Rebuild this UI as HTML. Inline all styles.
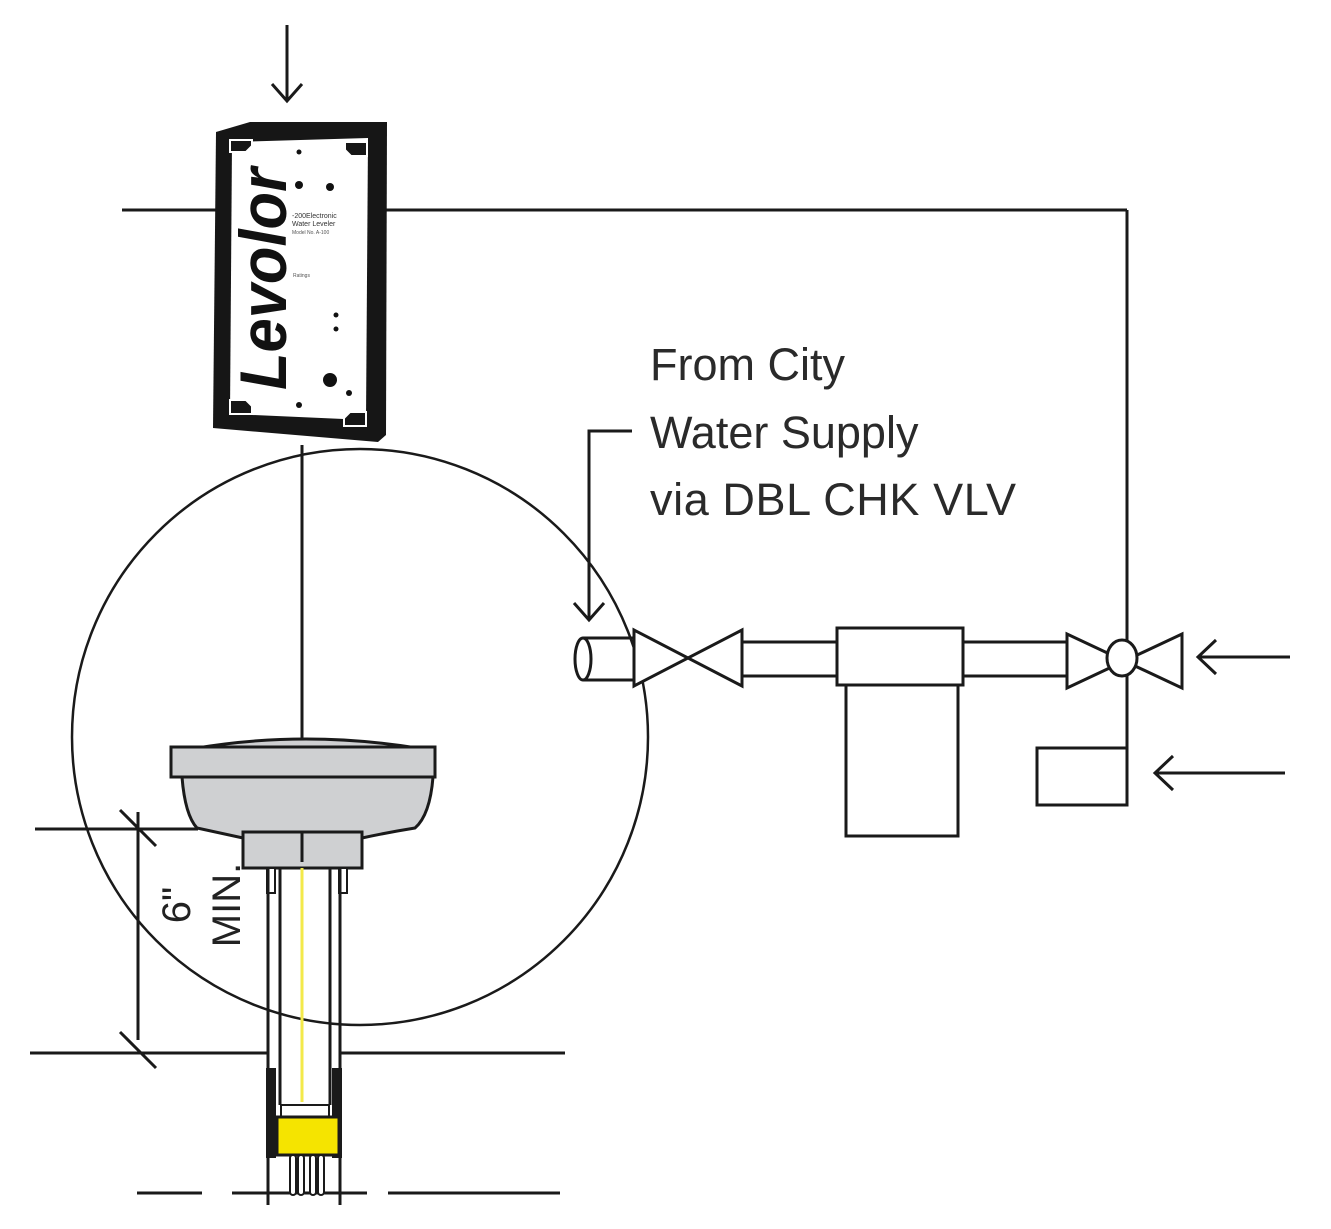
<!DOCTYPE html>
<html><head><meta charset="utf-8"><style>
html,body{margin:0;padding:0;background:#fff;width:1331px;height:1229px;overflow:hidden}
svg{display:block}
text{font-family:"Liberation Sans",sans-serif}
</style></head><body>
<svg width="1331" height="1229" viewBox="0 0 1331 1229" xmlns="http://www.w3.org/2000/svg">
<g fill="none" stroke="#1a1a1a" stroke-width="3">
<line x1="287" y1="25" x2="287" y2="101"/>
<polyline points="272,84 287,101 302,84"/>
<line x1="122" y1="210" x2="218" y2="210"/>
<line x1="385" y1="210" x2="1127" y2="210"/>
<line x1="1127" y1="210" x2="1127" y2="643"/>
<line x1="1127" y1="673" x2="1127" y2="805"/>
<circle cx="360" cy="737" r="288" stroke-width="2.5"/>
<line x1="302" y1="445" x2="302" y2="745"/>
<polyline points="632,431 589,431 589,620"/>
<polyline points="574,603 589,620 604,603"/>
<ellipse cx="583" cy="659" rx="8" ry="21" fill="#fff"/>
<line x1="583" y1="638" x2="636" y2="638"/>
<line x1="583" y1="680" x2="636" y2="680"/>
<polygon points="634,630 634,686 742,630 742,686" fill="#fff"/>
<line x1="742" y1="642" x2="837" y2="642"/>
<line x1="742" y1="676" x2="837" y2="676"/>
<rect x="837" y="628" width="126" height="57" fill="#fff"/>
<rect x="846" y="685" width="112" height="151" fill="#fff"/>
<line x1="963" y1="642" x2="1067" y2="642"/>
<line x1="963" y1="676" x2="1067" y2="676"/>
<polygon points="1067,634 1067,688 1182,634 1182,688" fill="#fff"/>
<ellipse cx="1122" cy="658" rx="15" ry="18" fill="#fff"/>
<rect x="1037" y="748" width="90" height="57" fill="#fff"/>
<line x1="1198" y1="657" x2="1290" y2="657"/>
<polyline points="1216,640 1198,657 1216,674"/>
<line x1="1155" y1="773" x2="1285" y2="773"/>
<polyline points="1173,756 1155,773 1173,790"/>
<line x1="35" y1="829" x2="198" y2="829"/>
<line x1="30" y1="1053" x2="268" y2="1053"/>
<line x1="340" y1="1053" x2="565" y2="1053"/>
<line x1="138" y1="812" x2="138" y2="1040"/>
<line x1="120" y1="810" x2="156" y2="846"/>
<line x1="120" y1="1032" x2="156" y2="1068"/>
<line x1="137" y1="1193" x2="202" y2="1193"/>
<line x1="232" y1="1193" x2="367" y2="1193"/>
<line x1="388" y1="1193" x2="560" y2="1193"/>
</g>
<g stroke="#1a1a1a" stroke-width="3">
<path d="M197,748 Q305,730 417,748 Z" fill="#cfd0d2"/>
<path d="M182,777 L433,777 Q430,815 415,828 Q390,832 362,838 L243,838 Q215,832 197,828 Q185,815 182,777 Z" fill="#cfd0d2"/>
<rect x="171" y="747" width="264" height="30" fill="#cfd0d2"/>
<rect x="243" y="832" width="119" height="36" fill="#cfd0d2"/>
<line x1="302" y1="832" x2="302" y2="862"/>
<rect x="267" y="868" width="8" height="25" fill="#fff" stroke-width="2"/>
<rect x="339" y="868" width="8" height="25" fill="#fff" stroke-width="2"/>
<g fill="none">
<line x1="268" y1="868" x2="268" y2="1205"/>
<line x1="340" y1="868" x2="340" y2="1205"/>
<line x1="280" y1="868" x2="280" y2="1105"/>
<line x1="330" y1="868" x2="330" y2="1105"/>
</g>
<rect x="266" y="1068" width="10" height="90" fill="#1a1a1a" stroke="none"/>
<rect x="332" y="1068" width="10" height="90" fill="#1a1a1a" stroke="none"/>
<rect x="281" y="1105" width="48" height="12" fill="#fff" stroke-width="2"/>
<rect x="277" y="1117" width="62" height="38" fill="#f5e400"/>
<g fill="#fff" stroke-width="2">
<rect x="290" y="1155" width="6" height="40" rx="3"/>
<rect x="298" y="1155" width="6" height="40" rx="3"/>
<rect x="310" y="1155" width="6" height="40" rx="3"/>
<rect x="318" y="1155" width="6" height="40" rx="3"/>
</g>
</g>
<line x1="302" y1="868" x2="302" y2="1102" stroke="#f3e94a" stroke-width="3"/>
<text transform="translate(190,905) rotate(-90)" font-size="40" text-anchor="middle" fill="#222">6"</text>
<text transform="translate(240,905) rotate(-90)" font-size="40" text-anchor="middle" fill="#222">MIN.</text>
<g font-size="45" fill="#2a2a2a">
<text x="650" y="380">From City</text>
<text x="650" y="448">Water Supply</text>
<text x="650" y="515" textLength="366">via DBL CHK VLV</text>
</g>
<g>
<polygon points="216,132 250,122 387,122 386,435 378,442 213,428" fill="#161616"/>
<polygon points="232,142 368,138 366,420 230,414" fill="#fff"/>
<g fill="#161616" stroke="#fff" stroke-width="2">
<path d="M230,140 h22 v6 l-6,6 h-16 z"/>
<path d="M345,142 h22 v14 h-16 l-6,-6 z"/>
<path d="M230,400 h16 l6,6 v8 h-22 z"/>
<path d="M350,412 h16 v14 h-22 v-8 z"/>
</g>
<text transform="translate(286,390) rotate(-90)" font-size="66" font-weight="bold" font-style="italic" fill="#111" textLength="222" lengthAdjust="spacingAndGlyphs">Levolor</text>
<circle cx="299" cy="152" r="2.5" fill="#111"/>
<circle cx="299" cy="185" r="4" fill="#111"/>
<circle cx="330" cy="187" r="4" fill="#111"/>
<circle cx="336" cy="315" r="2.5" fill="#111"/>
<circle cx="336" cy="329" r="2.5" fill="#111"/>
<circle cx="330" cy="380" r="7" fill="#111"/>
<circle cx="349" cy="393" r="3" fill="#111"/>
<circle cx="299" cy="405" r="3" fill="#111"/>
<text x="292" y="218" font-size="7" fill="#333">-200Electronic</text>
<text x="292" y="226" font-size="7" fill="#333">Water Leveler</text>
<text x="292" y="234" font-size="5" fill="#555">Model No. A-100</text>
<text x="293" y="277" font-size="5" fill="#555">Ratings</text>
</g>
</svg>
</body></html>
